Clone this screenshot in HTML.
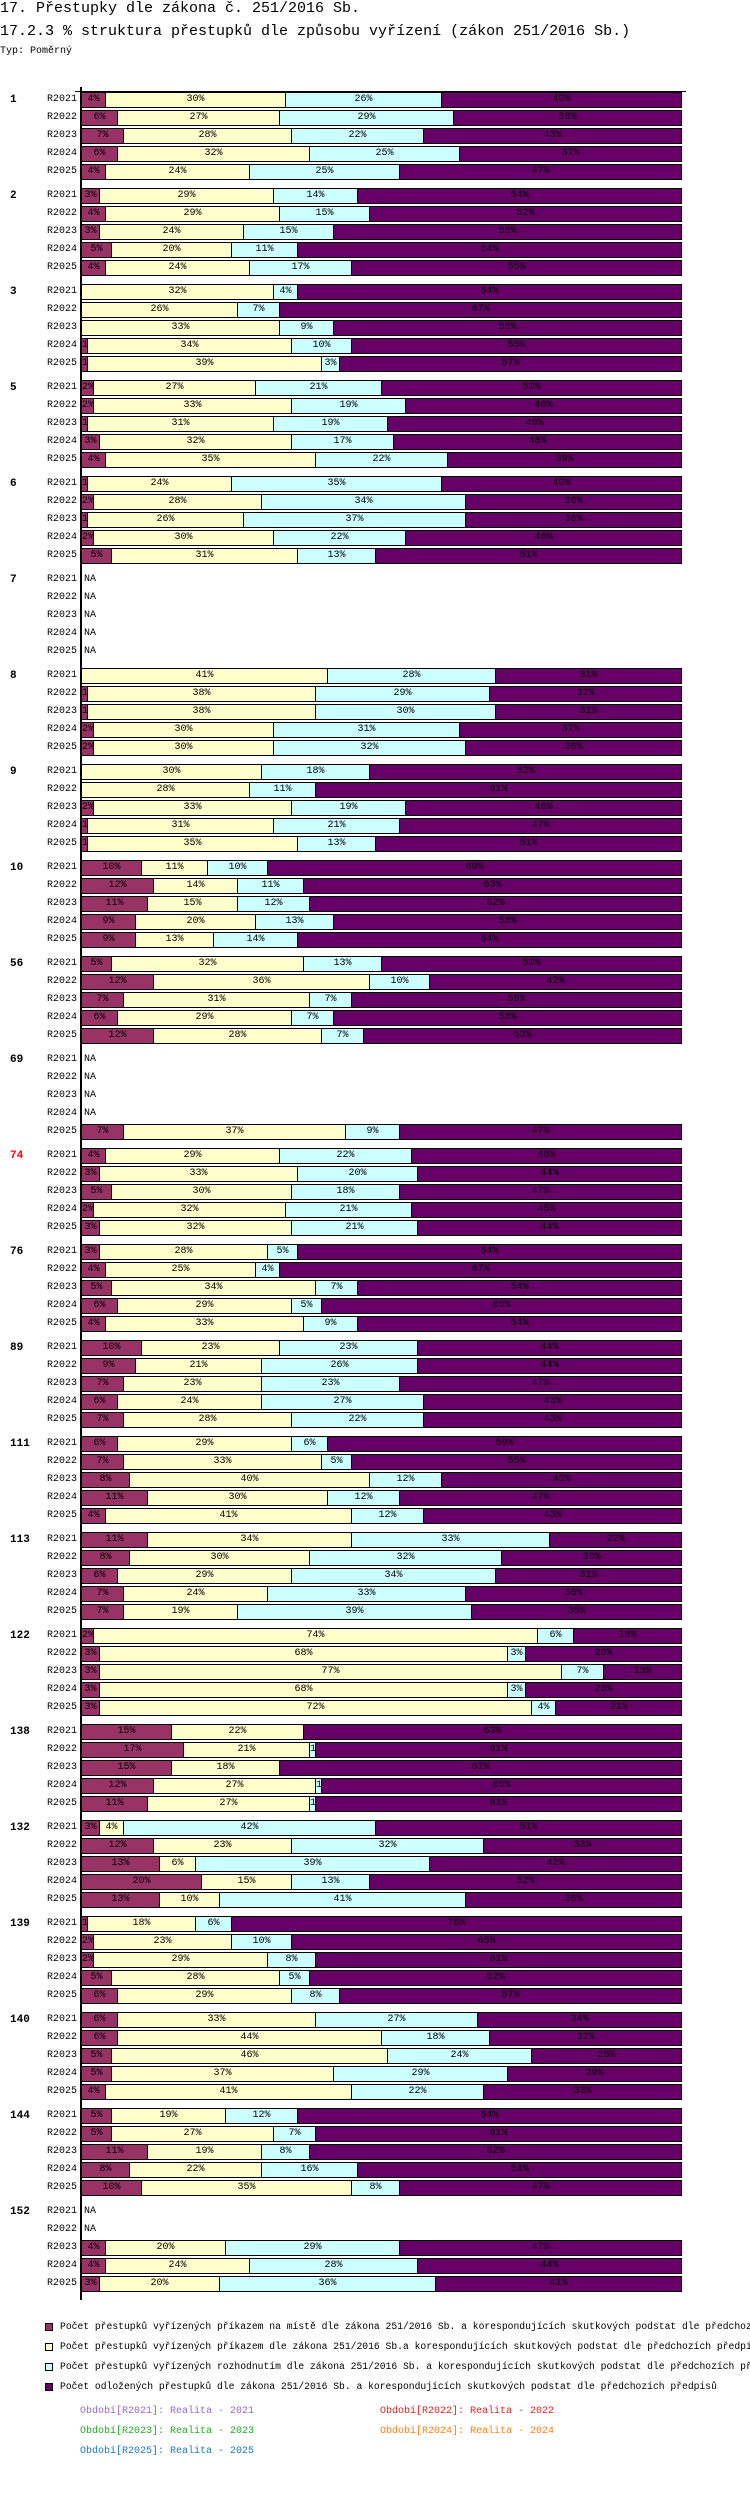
<!DOCTYPE html>
<html><head><meta charset="utf-8">
<style>
body{margin:0;width:750px;height:2510px;background:#fff;position:relative;overflow:hidden;font-family:"Liberation Mono","DejaVu Sans Mono",monospace;color:#000}
.t{position:absolute;white-space:nowrap;line-height:1}
.seg{position:absolute;box-sizing:border-box;border:1px solid #000;overflow:hidden;text-align:center;font-size:10px;line-height:14px;white-space:nowrap}
#legend{position:absolute;left:0;top:0;width:750px;height:2510px;overflow:hidden}
</style></head><body>
<div class="t" style="left:0;top:1px;font-size:15px">17. Přestupky dle zákona č. 251/2016 Sb.</div>
<div class="t" style="left:0;top:24px;font-size:15px">17.2.3 % struktura přestupků dle způsobu vyřízení (zákon 251/2016 Sb.)</div>
<div class="t" style="left:0;top:47px;font-size:10px">Typ: Poměrný</div>
<div id="chart"></div>
<div id="legend"></div>
<script>
const groups=["1","2","3","5","6","7","8","9","10","56","69","74","76","89","111","113","122","138","132","139","140","144","152"];
const periods=["R2021","R2022","R2023","R2024","R2025"];
const values=[
[[4,30,26,40],[6,27,29,38],[7,28,22,43],[6,32,25,37],[4,24,25,47]],
[[3,29,14,54],[4,29,15,52],[3,24,15,58],[5,20,11,64],[4,24,17,55]],
[[0,32,4,64],[0,26,7,67],[0,33,9,58],[1,34,10,55],[1,39,3,57]],
[[2,27,21,50],[2,33,19,46],[1,31,19,49],[3,32,17,48],[4,35,22,39]],
[[1,24,35,40],[2,28,34,36],[1,26,37,36],[2,30,22,46],[5,31,13,51]],
[null,null,null,null,null],
[[0,41,28,31],[1,38,29,32],[1,38,30,31],[2,30,31,37],[2,30,32,36]],
[[0,30,18,52],[0,28,11,61],[2,33,19,46],[1,31,21,47],[1,35,13,51]],
[[10,11,10,69],[12,14,11,63],[11,15,12,62],[9,20,13,58],[9,13,14,64]],
[[5,32,13,50],[12,36,10,42],[7,31,7,55],[6,29,7,58],[12,28,7,53]],
[null,null,null,null,[7,37,9,47]],
[[4,29,22,45],[3,33,20,44],[5,30,18,47],[2,32,21,45],[3,32,21,44]],
[[3,28,5,64],[4,25,4,67],[5,34,7,54],[6,29,5,60],[4,33,9,54]],
[[10,23,23,44],[9,21,26,44],[7,23,23,47],[6,24,27,43],[7,28,22,43]],
[[6,29,6,59],[7,33,5,55],[8,40,12,40],[11,30,12,47],[4,41,12,43]],
[[11,34,33,22],[8,30,32,30],[6,29,34,31],[7,24,33,36],[7,19,39,35]],
[[2,74,6,18],[3,68,3,26],[3,77,7,13],[3,68,3,26],[3,72,4,21]],
[[15,22,0,63],[17,21,1,61],[15,18,0,67],[12,27,1,60],[11,27,1,61]],
[[3,4,42,51],[12,23,32,33],[13,6,39,42],[20,15,13,52],[13,10,41,36]],
[[1,18,6,75],[2,23,10,65],[2,29,8,61],[5,28,5,62],[6,29,8,57]],
[[6,33,27,34],[6,44,18,32],[5,46,24,25],[5,37,29,29],[4,41,22,33]],
[[5,19,12,64],[5,27,7,61],[11,19,8,62],[8,22,16,54],[10,35,8,47]],
[null,null,[4,20,29,47],[4,24,28,44],[3,20,36,41]]
];
const seriesNames=["Počet přestupků vyřízených příkazem na místě dle zákona 251/2016 Sb. a korespondujících skutkových podstat dle předchozích předpisů","Počet přestupků vyřízených příkazem dle zákona 251/2016 Sb.a korespondujících skutkových podstat dle předchozích předpisů","Počet přestupků vyřízených rozhodnutím dle zákona 251/2016 Sb. a korespondujících skutkových podstat dle předchozích předpisů","Počet odložených přestupků dle zákona 251/2016 Sb. a korespondujících skutkových podstat dle předchozích předpisů"];
const periodNames=["Období[R2021]: Realita - 2021","Období[R2022]: Realita - 2022","Období[R2023]: Realita - 2023","Období[R2024]: Realita - 2024","Období[R2025]: Realita - 2025"];
const colors=["#993366","#ffffcc","#ccffff","#660066"];
const periodColors=["#9966cc","#dd2222","#22aa22","#ff7f0e","#1f77b4"];
const X0=81,W=600,Y0=92,GP=96,RP=18,BH=16;
function xs(v){return X0+v*W;}
function ys(g,r){return Y0+g*GP+r*RP;}
const chart=document.getElementById('chart');
function mk(parent,cls,style,text){const d=document.createElement('div');d.className=cls;d.style.cssText=style;if(text!==undefined)d.textContent=text;parent.appendChild(d);return d;}
let ax=mk(chart,'', 'position:absolute;left:80px;top:87px;width:2px;height:2213px;background:#000');


let hl=mk(chart,'', 'position:absolute;left:75px;top:91px;width:611px;height:1px;background:#000');


groups.forEach((g,gi)=>{
  const gl=mk(chart,'t','left:10px;top:'+(ys(gi,0)+3)+'px;font-size:11px;font-weight:bold;color:'+(g==="74"?"#ff0000":"#000"),g);
  
  
  periods.forEach((p,pi)=>{
    const y=ys(gi,pi);
    const rl=mk(chart,'t','right:673px;top:'+(y+3)+'px;font-size:10px;text-align:right',p);
    
    
    const vals=values[gi][pi];
    if(!vals){
      const na=mk(chart,'t','left:84px;top:'+(y+3)+'px;font-size:10px','NA');
      
      
      return;
    }
    const tot=vals.reduce((a,b)=>a+b,0);
    let cum=0;
    vals.forEach((v,si)=>{
      if(v<=0)return;
      const x1=Math.round(xs(cum/tot)),x2=Math.round(xs((cum+v)/tot));
      cum+=v;
      const s=mk(chart,'seg','left:'+x1+'px;top:'+y+'px;width:'+(x2-x1+1)+'px;height:'+BH+'px;background:'+colors[si]+';color:#000',v+'%');
      
      
    });
  });
});
const lg=document.getElementById('legend');
seriesNames.forEach((n,i)=>{
  const y=2327+20*i;
  const sq=mk(lg,'','position:absolute;left:45px;top:'+(y-4)+'px;width:8px;height:8px;box-sizing:border-box;border:1px solid #000;background:'+colors[i]);
  
  
  const tx=mk(lg,'t','left:60px;top:'+(y-5)+'px;font-size:9.7px',n);
  
  
});
periodNames.forEach((n,i)=>{
  const col=i%2,row=Math.floor(i/2);
  const tx=mk(lg,'t','left:'+(col?380:80)+'px;top:'+(2407+20*row)+'px;font-size:10px;color:'+periodColors[i],n);
  
  
});
</script>
</body></html>
